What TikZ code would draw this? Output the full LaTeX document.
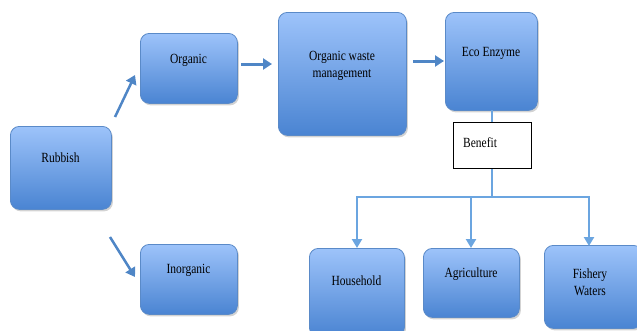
\documentclass[tikz,border=0pt]{standalone}
\usepackage{fontspec}
\setmainfont{Liberation Serif}
\usetikzlibrary{shadows,arrows.meta}
\definecolor{boxtop}{HTML}{9DC3FA}
\definecolor{boxbot}{HTML}{4A84D2}
\definecolor{boxline}{HTML}{5A8AC8}
\definecolor{arrowc}{HTML}{4F86C6}
\definecolor{busc}{HTML}{6BA5E0}
\tikzset{
  box/.style={draw=boxline, line width=0.8pt, rounded corners=9pt, top color=boxtop, bottom color=boxbot,
    drop shadow={shadow xshift=1.5pt, shadow yshift=-2pt, opacity=0.35}, inner sep=0pt},
  txt/.style={font=\fontsize{14}{17}\selectfont, align=center, inner sep=0pt, xscale=0.82},
  bigarrow/.style={draw=arrowc, line width=3pt, -{Triangle[length=9pt,width=11pt]}},
  busline/.style={draw=busc, line width=2.5pt},
  busarrow/.style={draw=busc, line width=2.5pt, -{Triangle[length=9pt,width=10pt]}},
}
\newcommand{\mybox}[5]{% name, x1, y1, x2, y2
  \node[box, anchor=north west, minimum width={(#4-#2)*1pt}, minimum height={(#5-#3)*1pt}] (#1) at (#2,#3) {};}
\begin{document}
\begin{tikzpicture}[x=1pt,y=-1pt]
\useasboundingbox (0,0) rectangle (637,330);
\begin{scope}
\clip (0,0) rectangle (637,330);
\mybox{rub}{10}{126}{111}{209}
\mybox{org}{140}{33}{237}{103}
\mybox{owm}{278}{12}{406}{135}
\mybox{eco}{445}{12}{537}{110}
\mybox{ino}{140}{244}{237}{314}
\mybox{hou}{309}{248}{404}{336}
\mybox{agr}{423}{248}{519}{317}
\mybox{fis}{544}{245}{642}{328}
\end{scope}
\node[txt] (trub) at (60.5,158) {Rubbish};
\node[txt] (torg) at (188.5,60) {Organic};
\node[txt] (towm) at (342,65.5) {Organic waste\\management};
\node[txt] (teco) at (491,53) {Eco Enzyme};
\node[txt] (tino) at (188.5,270) {Inorganic};
\node[txt] (thou) at (356.5,281) {Household};
\node[txt] (tagr) at (471,274) {Agriculture};
\node[txt] (tfis) at (590,282.5) {Fishery\\Waters};
\node[draw=black, line width=1.3pt, fill=white, anchor=north west, minimum width=78pt, minimum height=46pt, inner sep=0pt] (ben) at (453,122) {};
\node[txt, anchor=west] (tben) at (463,143) {Benefit};
% arrows
\coordinate (a1s) at (115,117); \coordinate (a1e) at (135,75);
\coordinate (a2s) at (110,237); \coordinate (a2e) at (135,277);
\coordinate (a3s) at (241,64); \coordinate (a3e) at (272,64);
\coordinate (a4s) at (413,61); \coordinate (a4e) at (444,61);
\draw[bigarrow, line width=2.5pt] (a1s) -- (a1e);
\draw[bigarrow, line width=2.5pt] (a2s) -- (a2e);
\draw[bigarrow] (a3s) -- (a3e);
\draw[bigarrow] (a4s) -- (a4e);
% benefit tree
\coordinate (bt) at (492,110);
\coordinate (bj) at (492,197);
\coordinate (bl) at (357,197);
\coordinate (br) at (589,197);
\draw[busline] (bt) -- (bt|-ben.north);
\draw[busline] (bj|-ben.south) -- (bj);
\draw[busline] (bl) -- (br);
\draw[busarrow] (357,196) -- (hou.north-|357,0);
\draw[busarrow] (471,196) -- (agr.north-|471,0);
\draw[busarrow] (589,196) -- ([yshift=-1pt]fis.north-|589,0);
\end{tikzpicture}
\end{document}
